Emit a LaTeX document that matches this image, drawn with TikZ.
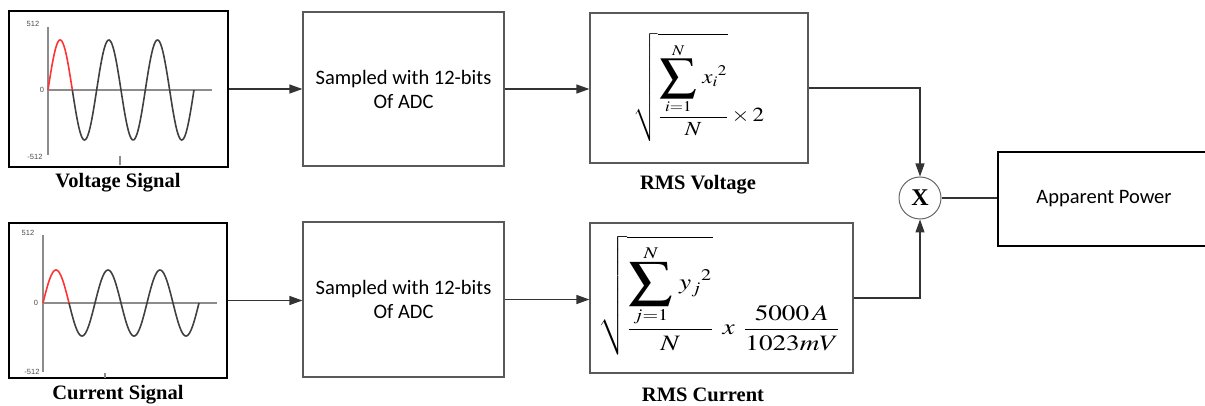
\documentclass[tikz,border=0pt]{standalone}
\usepackage{mathptmx}
\usepackage{graphicx}
\usepackage{fontspec}
\setmainfont{Liberation Serif}
\newfontfamily\calib{Carlito}
\newfontfamily\arial{Liberation Sans}
\usetikzlibrary{arrows.meta}
\newcommand{\bigsum}{\mathop{\vcenter{\hbox{\scalebox{1.6}{$\displaystyle\sum$}}}}\limits}
\begin{document}
\begin{tikzpicture}[x=1pt,y=-1pt,
  thickbox/.style={draw=black, line width=2.6pt, inner sep=0pt},
  procbox/.style={draw=black!65, line width=1.2pt, inner sep=0pt},
  conn/.style={draw=black!80, line width=1.2pt},
  arr/.style={conn,-{Triangle[length=13pt,width=9pt]}},
  sigtitle/.style={font=\fontsize{20.5}{22}\selectfont\bfseries},
  proctext/.style={font=\calib\fontsize{20.5}{24}\selectfont, align=center},
  mathtext/.style={font=\fontsize{20}{24}\selectfont, inner sep=0pt},
  axisline/.style={draw=black!45, line width=1.6pt},
  wave/.style={draw=black!75, line width=1.6pt},
  redwave/.style={draw=red!80!white, line width=1.6pt},
  ticklbl/.style={font=\arial\fontsize{7.5}{8}\selectfont, text=black!70, inner sep=0pt},
  multc/.style={circle, draw=black!60, line width=1pt, minimum size=42pt, inner sep=0pt, font=\fontsize{24}{26}\selectfont\bfseries},
]
\useasboundingbox (0,0) rectangle (1205,406);

% signal boxes
\node[thickbox, minimum width=219pt, minimum height=156pt] (vsig) at (118.5,89) {};
\node[thickbox, minimum width=218pt, minimum height=155pt] (isig) at (118,300.5) {};

% voltage plot
\draw[axisline] (48,27) -- (48,155);
\draw[axisline] (48,90) -- (212,90);
\draw[axisline] (120,156) -- (120,165);
\node[ticklbl] (v512) at (33,24) {512};
\node[ticklbl] (v0) at (42,90) {0};
\node[ticklbl] (vm512) at (35,157) {-512};
\draw[wave] plot[domain=1:6, samples=150] ({48+24.33*\x},{90-50*sin(180*\x)});
\draw[redwave] plot[domain=0:1, samples=40] ({48+24.33*\x},{90-50*sin(180*\x)});

% current plot
\draw[axisline] (43,235) -- (43,372);
\draw[axisline] (43,303) -- (217,303);
\draw[axisline] (105,373) -- (105,378);
\node[ticklbl] (i512) at (28,233) {512};
\node[ticklbl] (i0) at (36,303) {0};
\node[ticklbl] (im512) at (32,372) {-512};
\draw[wave] plot[domain=1:6, samples=150] ({43+26*\x},{303-33*sin(180*\x)});
\draw[redwave] plot[domain=0:1, samples=40] ({43+26*\x},{303-33*sin(180*\x)});

\node[sigtitle] (vlbl) at (118,183) {Voltage Signal};
\node[sigtitle] (ilbl) at (118,395) {Current Signal};

% ADC boxes
\node[procbox, minimum width=201pt, minimum height=154pt, proctext] (adc1) at (403.5,89) {Sampled with 12-bits\\Of ADC};
\node[procbox, minimum width=201pt, minimum height=155pt, proctext] (adc2) at (403.5,299.5) {Sampled with 12-bits\\Of ADC};

% RMS boxes
\node[procbox, minimum width=218pt, minimum height=150pt] (rmsv) at (699,88) {};
\node[procbox, minimum width=263pt, minimum height=150pt] (rmsi) at (721.5,298) {};
\node[mathtext] (fv) at (699,87.5) {\scalebox{1.15}[1]{$\displaystyle\sqrt{\frac{\displaystyle\bigsum_{i=1}^{N}\, x_{i}{}^{2}}{N}}\times 2$}};
\node[mathtext] (fi) at (719,295.5) {\scalebox{1.36}[1.1]{$\displaystyle\sqrt{\frac{\displaystyle\bigsum_{j=1}^{N}\, y_{j}{}^{2}}{N}}\;\, x\;\, \frac{5000\,A}{1023mV}$}};
\node[sigtitle] (rvlbl) at (698,185) {RMS Voltage};
\node[sigtitle] (rilbl) at (703,395) {RMS Current};

% multiplier and output
\node[multc] (mult) at (920,198) {X};
\node[thickbox, minimum width=216pt, minimum height=94pt] (ap) at (1106,199) {};
\node[proctext] (aptxt) at (1104,199) {Apparent Power};

% connectors
\draw[arr] (vsig.east) -- (vsig.east -| adc1.west);
\draw[arr] (isig.east) -- (isig.east -| adc2.west);
\draw[arr] (adc1.east) -- (adc1.east -| rmsv.west);
\draw[arr] (adc2.east) -- (adc2.east -| rmsi.west);
\draw[arr] (rmsv.east) -| (mult.north);
\draw[arr] (rmsi.east) -| (mult.south);
\draw[conn] (mult.east) -- (mult.east -| ap.west);
\end{tikzpicture}
\end{document}
